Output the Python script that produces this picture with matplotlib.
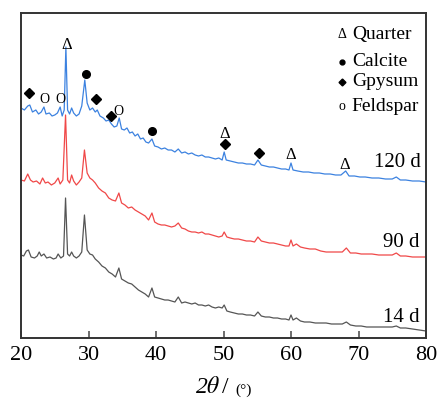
import numpy as np
import matplotlib
matplotlib.use("Agg")
import matplotlib.pyplot as plt

plt.rcParams['font.family'] = ['Liberation Serif', 'DejaVu Serif']

# XRD patterns (2theta, intensity in arbitrary units)
theta_120 = [20.0, 20.5, 21.0, 21.3, 21.7, 22.2, 22.6, 23.0, 23.4, 23.7, 24.2, 24.6, 25.0, 25.4,
             25.8, 26.1, 26.4, 26.65, 26.9, 27.2, 27.5, 27.8, 28.2, 28.6, 29.0, 29.45, 29.8, 30.2,
             30.6, 31.0, 31.3, 31.7, 32.2, 32.6, 33.0, 33.4, 33.8, 34.2, 34.55, 34.9, 35.3, 35.7,
             36.1, 36.5, 36.9, 37.3, 37.7, 38.1, 38.5, 38.9, 39.4, 39.8, 40.3, 40.8, 41.3, 41.8,
             42.3, 42.8, 43.3, 43.8, 44.3, 44.8, 45.3, 45.8, 46.3, 46.8, 47.3, 47.8, 48.3, 48.8,
             49.3, 49.8, 50.1, 50.4, 51.0, 51.6, 52.2, 52.8, 53.4, 54.0, 54.6, 55.1, 55.6, 56.2,
             56.8, 57.4, 58.0, 58.6, 59.2, 59.7, 60.0, 60.3, 61.0, 61.8, 62.6, 63.4, 64.2, 65.0,
             65.8, 66.6, 67.4, 68.1, 68.6, 69.4, 70.2, 71.0, 72.0, 73.0, 74.0, 75.0, 75.6, 76.2,
             77.0, 78.0, 79.0, 80.0]
int_120 = [230, 228, 232, 233, 226, 228, 224, 226, 231, 224, 225, 222, 223, 225,
           231, 222, 228, 291, 228, 224, 230, 225, 222, 224, 232, 258, 235, 228,
           230, 226, 228, 222, 220, 217, 218, 214, 211, 212, 220, 209, 208, 210,
           205, 206, 202, 204, 199, 200, 196, 195, 199, 192, 191, 189, 190, 188,
           188, 186, 189, 185, 186, 184, 185, 183, 182, 183, 181, 181, 180, 179,
           180, 178, 186, 178, 177, 176, 175, 175, 174, 174, 173, 178, 173, 172,
           171, 171, 170, 169, 169, 168, 175, 168, 167, 166, 166, 165, 165, 164,
           164, 163, 163, 167, 162, 162, 161, 161, 160, 160, 159, 159, 161, 158,
           158, 157, 157, 156]

theta_90 = [20.0, 20.5, 21.0, 21.4, 21.8, 22.3, 22.8, 23.2, 23.6, 24.0, 24.5, 25.0, 25.5, 25.8,
            26.2, 26.6, 26.9, 27.2, 27.5, 27.8, 28.2, 28.6, 29.0, 29.4, 29.8, 30.2, 30.6, 31.0,
            31.5, 32.0, 32.5, 33.0, 33.5, 34.0, 34.5, 34.9, 35.4, 35.9, 36.4, 36.9, 37.4, 37.9,
            38.4, 38.9, 39.4, 39.8, 40.3, 40.8, 41.3, 41.8, 42.3, 42.8, 43.3, 43.8, 44.3, 44.8,
            45.3, 45.8, 46.3, 46.8, 47.3, 47.8, 48.3, 48.8, 49.3, 49.8, 50.1, 50.5, 51.0, 51.6,
            52.2, 52.8, 53.4, 54.0, 54.6, 55.1, 55.6, 56.2, 56.8, 57.4, 58.0, 58.6, 59.2, 59.7,
            60.0, 60.3, 60.8, 61.4, 62.0, 62.8, 63.6, 64.4, 65.2, 66.0, 66.8, 67.6, 68.2, 68.8,
            69.6, 70.4, 71.2, 72.0, 73.0, 74.0, 75.0, 75.6, 76.2, 77.0, 78.0, 79.0, 80.0]
int_90 = [158, 157, 164, 158, 156, 157, 154, 160, 155, 156, 153, 155, 160, 154,
          158, 223, 158, 155, 163, 157, 153, 156, 160, 188, 165, 160, 158, 155,
          150, 147, 145, 140, 138, 137, 145, 135, 133, 130, 131, 128, 126, 124,
          122, 118, 125, 116, 114, 113, 113, 112, 111, 112, 115, 110, 109, 107,
          106, 106, 105, 106, 104, 104, 103, 102, 101, 102, 106, 101, 100, 99,
          99, 98, 97, 97, 96, 101, 97, 96, 95, 95, 94, 93, 92, 92,
          98, 92, 94, 91, 90, 89, 89, 87, 86, 86, 86, 86, 90, 85,
          85, 84, 84, 84, 83, 83, 83, 85, 82, 82, 81, 81, 81]

theta_14 = [20.0, 20.4, 20.8, 21.1, 21.5, 22.0, 22.4, 22.7, 23.0, 23.4, 23.8, 24.3, 24.8, 25.2,
            25.5, 25.9, 26.3, 26.6, 26.9, 27.2, 27.5, 27.8, 28.2, 28.6, 29.0, 29.4, 29.8, 30.2,
            30.6, 31.0, 31.5, 32.0, 32.5, 33.0, 33.5, 34.0, 34.5, 34.9, 35.4, 35.9, 36.4, 36.9,
            37.4, 37.9, 38.4, 38.9, 39.4, 39.8, 40.3, 40.8, 41.3, 41.8, 42.3, 42.8, 43.3, 43.8,
            44.3, 44.8, 45.3, 45.8, 46.3, 46.8, 47.3, 47.8, 48.3, 48.8, 49.3, 49.8, 50.1, 50.5,
            51.0, 51.6, 52.2, 52.8, 53.4, 54.0, 54.6, 55.1, 55.6, 56.2, 56.8, 57.4, 58.0, 58.6,
            59.2, 59.7, 60.0, 60.3, 60.8, 61.4, 62.0, 62.8, 63.6, 64.4, 65.2, 66.0, 66.8, 67.6,
            68.2, 68.8, 69.6, 70.4, 71.2, 72.0, 73.0, 74.0, 75.0, 75.6, 76.2, 77.0, 78.0, 79.0,
            80.0]
int_14 = [83, 82, 87, 88, 81, 80, 82, 86, 82, 84, 80, 81, 79, 80,
          84, 80, 82, 140, 84, 82, 86, 82, 80, 82, 86, 123, 88, 84,
          83, 79, 76, 72, 70, 66, 64, 61, 70, 59, 57, 55, 54, 51,
          48, 46, 44, 41, 50, 41, 40, 39, 38, 38, 37, 36, 41, 35,
          36, 35, 34, 35, 33, 33, 32, 33, 31, 30, 31, 30, 33, 27,
          26, 25, 24, 24, 23, 23, 22, 26, 22, 21, 21, 20, 20, 19,
          19, 18, 23, 18, 20, 17, 16, 16, 15, 15, 15, 14, 14, 14,
          16, 13, 12, 12, 11, 11, 11, 11, 11, 12, 10, 10, 9, 8,
          7]

# phase marks above the 120 d pattern
quartz_pos = [(26.75, 293), (50.2, 204), (60.0, 183), (68.0, 173)]
calcite_pos = [(29.6, 264), (39.4, 207)]
gypsum_pos = [(21.2, 245), (31.1, 239), (33.3, 222), (50.2, 194), (55.2, 185)]
feldspar_pos = [(23.5, 238), (25.8, 238), (34.5, 226)]

legend_names = ["Quarter", "Calcite", "Gpysum", "Feldspar"]
legend_y = [303, 276, 256, 231]

fig = plt.figure(figsize=(4.4, 4.04), dpi=100)
ax = fig.add_axes([21 / 440, 1 - 338 / 404, 405 / 440, 325 / 404])

ax.plot(theta_14, int_14, color="#555555", lw=0.9)
ax.plot(theta_90, int_90, color="#f04848", lw=0.9)
ax.plot(theta_120, int_120, color="#3c82e0", lw=0.9)

for x, y in quartz_pos:
    ax.text(x, y, "Δ", ha="center", va="center", fontsize=12)
for x, y in calcite_pos:
    ax.plot(x, y, "o", color="black", ms=5.5)
for x, y in gypsum_pos:
    ax.plot(x, y, "D", color="black", ms=5)
for x, y in feldspar_pos:
    ax.text(x, y, "O", ha="center", va="center", fontsize=10)

# legend drawn as text, like the original
sym_x, txt_x = 67.5, 69.0
ax.text(sym_x, legend_y[0], "Δ", ha="center", va="center", fontsize=10)
ax.plot(sym_x, legend_y[1], "o", color="black", ms=3.5)
ax.plot(sym_x, legend_y[2], "D", color="black", ms=3.5)
ax.text(sym_x, legend_y[3], "o", ha="center", va="center", fontsize=10)
for name, y in zip(legend_names, legend_y):
    ax.text(txt_x, y, name, ha="left", va="center", fontsize=14)

ax.text(79.2, 175, "120 d", ha="right", va="center", fontsize=15)
ax.text(79.0, 95, "90 d", ha="right", va="center", fontsize=15)
ax.text(79.0, 21, "14 d", ha="right", va="center", fontsize=15)

ax.set_xlim(20, 80)
ax.set_ylim(0, 325)
ax.set_xticks(np.arange(20, 81, 10))
ax.set_yticks([])
ax.tick_params(axis="x", direction="in", length=5, width=1.2, color="#555555",
               labelsize=16, pad=6)
for s in ax.spines.values():
    s.set_linewidth(1.4)
    s.set_color("#333333")

fig.text(0.5, 0.015, "2$\\theta$", ha="right", va="bottom", fontsize=17,
         style="italic", math_fontfamily="stix")
fig.text(0.505, 0.015, "/ ", ha="left", va="bottom", fontsize=17)
fig.text(0.535, 0.018, "(°)", ha="left", va="bottom", fontsize=11)

fig.savefig("out.png", dpi=100)
